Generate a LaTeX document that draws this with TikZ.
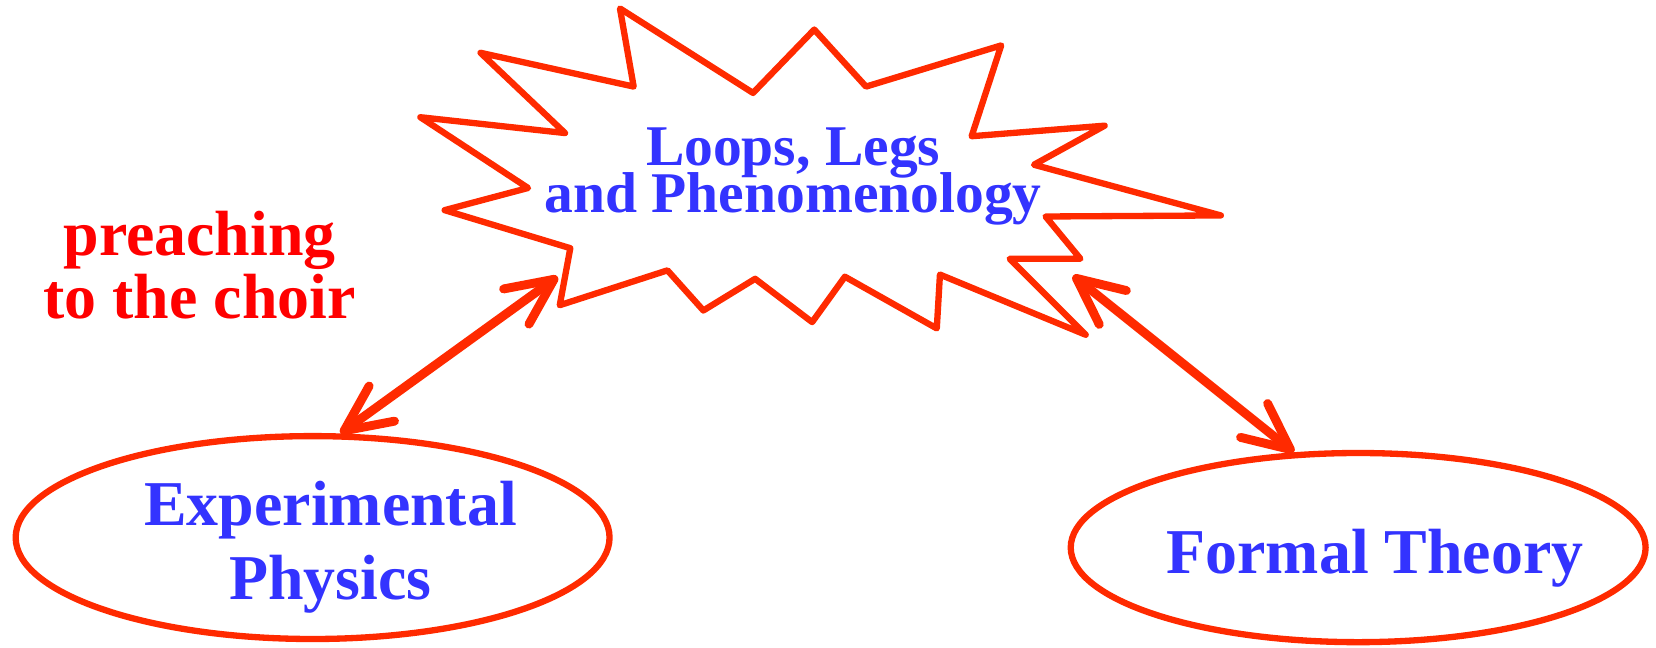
\documentclass[tikz,border=0pt]{standalone}
\usepackage{fontspec}
\setmainfont{Liberation Serif}
\usetikzlibrary{shapes.geometric,arrows.meta}
\definecolor{burstred}{HTML}{FF2A00}
\definecolor{ink}{HTML}{3333FF}
\definecolor{choir}{HTML}{FF0000}
\newcommand{\tightlines}{\lineskiplimit=-20pt\relax}

\begin{document}
\begin{tikzpicture}[x=0.01cm,y=-0.01cm,
  oval/.style={ellipse,draw=burstred,line width=1.7pt,inner sep=0pt},
  blab/.style={font=\fontsize{17.2}{20}\selectfont\bfseries\tightlines,color=ink,align=center,anchor=base},
  both/.style={burstred,line width=2.4pt,{Straight Barb[length=4.4mm,width=4.1mm,round]}-{Straight Barb[length=4.4mm,width=4.1mm,round]}}]
\useasboundingbox (0,0) rectangle (1568,613);
% the spiky outline
\draw[burstred,line width=1.7pt,line join=round] (587,8) -- (600,82) -- (455,50) -- (535,126) -- (398,111) -- (500,178) -- (421,199) -- (540,235) -- (530,289) -- (632,256) -- (666,294) -- (715,264) -- (769,305) -- (800,262) -- (887,311) -- (890,260) -- (1028,317) -- (956,245) -- (1023,245) -- (990,205) -- (1156,204) -- (979,156) -- (1046,119) -- (920,129) -- (948,43) -- (820,82) -- (771,28) -- (713,88) -- cycle;
\node[blab,font=\fontsize{15.5}{12.5}\selectfont\bfseries\tightlines] (llp) at (751,201) {Loops, Legs\\and Phenomenology};
% the two ovals
\foreach \nm/\x/\y/\w/\h in {expt/296/509/5.62/1.92,form/1286/518.5/5.44/1.79}
  \node[oval,minimum width=\w cm,minimum height=\h cm] (\nm) at (\x,\y) {};
\node[blab] (exptlab) at (313,568) {Experimental\\Physics};
\node[blab] (formlab) at (1302,543) {Formal Theory};
\node[blab,color=choir,font=\fontsize{17.2}{17}\selectfont\bfseries\tightlines] (choirlab) at (189,301.5) {preaching\\to the choir};
% arrows both ways
\coordinate (burstL) at (528,262);
\coordinate (burstR) at (1016,261);
\draw[both] (expt.75) -- (burstL);
\draw[both] (burstR) -- (form.124);
\end{tikzpicture}
\end{document}
